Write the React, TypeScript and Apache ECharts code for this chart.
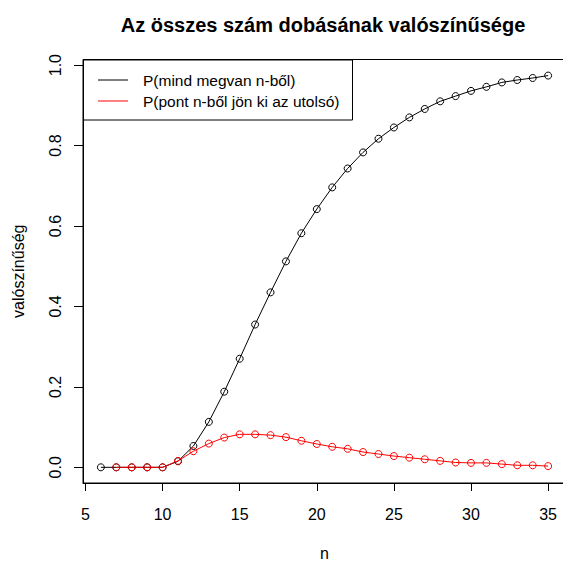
import React, { useEffect, useRef } from "react";
import * as echarts from "echarts";

const titleText = "Az összes szám dobásának valószínűsége";
const xTitle = "n";
const yTitle = "valószínűség";
const seriesNames = ["P(mind megvan n-ből)", "P(pont n-ből jön ki az utolsó)"];
const seriesColors = ["#000000", "#ff0000"];

const nAll = [6, 7, 8, 9, 10, 11, 12, 13, 14, 15, 16, 17, 18, 19, 20, 21, 22, 23, 24, 25, 26, 27, 28, 29, 30, 31, 32, 33, 34, 35];
const pAll = [0, 0, 0, 0, 0, 0.015, 0.053, 0.113, 0.188, 0.27, 0.355, 0.435, 0.512, 0.582, 0.642, 0.696, 0.743, 0.783, 0.817, 0.845, 0.87, 0.891, 0.91, 0.923, 0.936, 0.946, 0.957, 0.963, 0.968, 0.974];

const nLast = [7, 8, 9, 10, 11, 12, 13, 14, 15, 16, 17, 18, 19, 20, 21, 22, 23, 24, 25, 26, 27, 28, 29, 30, 31, 32, 33, 34, 35];
const pLast = [0, 0, 0, 0, 0.016, 0.04, 0.059, 0.074, 0.082, 0.082, 0.08, 0.075, 0.066, 0.058, 0.051, 0.046, 0.038, 0.033, 0.028, 0.024, 0.02, 0.016, 0.012, 0.011, 0.011, 0.008, 0.005, 0.005, 0.003];

const xTicks = [5, 10, 15, 20, 25, 30, 35];
const yTicks = [0, 0.2, 0.4, 0.6, 0.8, 1.0];

const FONT = "'Liberation Sans', Arial, sans-serif";

export default function App() {
  const ref = useRef<HTMLDivElement>(null);
  useEffect(() => {
    if (!ref.current) return;
    const chart = echarts.init(ref.current, undefined, { renderer: "svg" });
    const gl = 83, gt = 59.5, gw = 483, gh = 423.5;
    const mkSeries = (name: string, xs: number[], ys: number[], color: string) => ({
      name,
      type: "line",
      data: xs.map((n, i) => [n, ys[i]]),
      symbol: "circle",
      symbolSize: 7,
      color,
      lineStyle: { width: 1, color },
      itemStyle: { color: "rgba(0,0,0,0)", borderColor: color, borderWidth: 1 },
      emphasis: { disabled: true },
    });
    chart.setOption({
      animation: false,
      backgroundColor: "#ffffff",
      title: {
        text: titleText,
        left: 318,
        textAlign: "center",
        top: 10,
        textStyle: { fontFamily: FONT, fontSize: 20, fontWeight: "bold", color: "#000" },
      },
      grid: {
        left: gl,
        top: gt,
        width: gw,
        height: gh,
        outerBoundsMode: "none",
        containLabel: false,
        show: true,
        borderColor: "#000",
        borderWidth: 1,
        backgroundColor: "transparent",
      },
      xAxis: {
        type: "value",
        position: "bottom",
        min: 4.84,
        max: 36.16,
        splitLine: { show: false },
        axisLine: { show: true, onZero: false, lineStyle: { color: "#000", width: 1 } },
        axisTick: { show: true, length: 8, inside: false, customValues: xTicks, lineStyle: { color: "#000", width: 1 } },
        axisLabel: { customValues: xTicks, margin: 23, fontFamily: FONT, fontSize: 16, color: "#000" },
        name: xTitle,
        nameLocation: "middle",
        nameGap: 62,
        nameTextStyle: { fontFamily: FONT, fontSize: 16, color: "#000" },
      },
      yAxis: {
        type: "value",
        position: "left",
        min: -0.039,
        max: 1.014,
        splitLine: { show: false },
        axisLine: { show: true, onZero: false, lineStyle: { color: "#000", width: 1 } },
        axisTick: { show: true, length: 9, customValues: yTicks, lineStyle: { color: "#000", width: 1 } },
        axisLabel: {
          customValues: yTicks,
          rotate: 90,
          margin: 20,
          fontFamily: FONT,
          fontSize: 16,
          color: "#000",
          formatter: (v: number) => v.toFixed(1),
        },
        name: yTitle,
        nameLocation: "middle",
        nameGap: 57,
        nameTextStyle: { fontFamily: FONT, fontSize: 16, color: "#000" },
      },
      series: [
        mkSeries(seriesNames[0], nAll, pAll, seriesColors[0]),
        mkSeries(seriesNames[1], nLast, pLast, seriesColors[1]),
      ],
      graphic: [
        {
          type: "rect",
          shape: { x: 83.5, y: 60, width: 269, height: 60 },
          style: { fill: "#fff", stroke: "#000", lineWidth: 1 },
          z: 10,
        },
        {
          type: "line",
          shape: { x1: 98, y1: 80, x2: 128, y2: 80 },
          style: { stroke: seriesColors[0], lineWidth: 1 },
          z: 11,
        },
        {
          type: "line",
          shape: { x1: 98, y1: 101, x2: 128, y2: 101 },
          style: { stroke: seriesColors[1], lineWidth: 1 },
          z: 11,
        },
        {
          type: "text",
          x: 143,
          y: 80,
          style: { text: seriesNames[0], fontFamily: FONT, fontSize: 15.5, fill: "#000", verticalAlign: "middle" },
          z: 11,
        },
        {
          type: "text",
          x: 143,
          y: 101,
          style: { text: seriesNames[1], fontFamily: FONT, fontSize: 15.5, fill: "#000", verticalAlign: "middle" },
          z: 11,
        },
      ],
    });
    return () => chart.dispose();
  }, []);
  return <div ref={ref} style={{ width: 563, height: 561, position: "absolute", left: 0, top: 0 }} />;
}
